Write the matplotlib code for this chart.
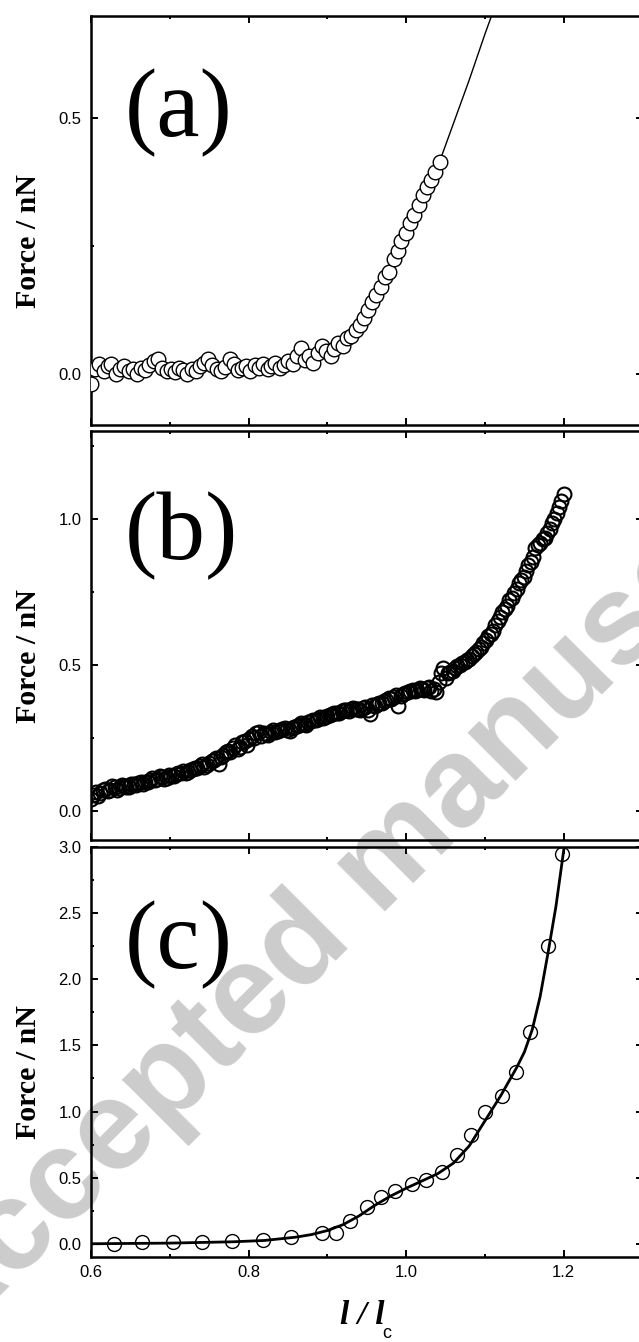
import matplotlib
matplotlib.use('Agg')
import matplotlib.pyplot as plt
from matplotlib.ticker import MultipleLocator

# panel (a): force vs l/lc, open circles + fitted line
a_x = [0.600, 0.605, 0.610, 0.616, 0.621, 0.626, 0.632, 0.637, 0.642, 0.648,
       0.653, 0.658, 0.664, 0.669, 0.674, 0.680, 0.685, 0.690, 0.696, 0.701,
       0.706, 0.712, 0.717, 0.722, 0.728, 0.733, 0.738, 0.744, 0.749, 0.754,
       0.760, 0.765, 0.770, 0.776, 0.781, 0.786, 0.792, 0.797, 0.802, 0.808,
       0.813, 0.818, 0.824, 0.829, 0.834, 0.840, 0.845, 0.850, 0.856, 0.861,
       0.866, 0.872, 0.877, 0.882, 0.888, 0.893, 0.898, 0.904, 0.909, 0.914,
       0.920, 0.925, 0.930, 0.936, 0.941, 0.946, 0.952, 0.957, 0.962, 0.968,
       0.973, 0.978, 0.984, 0.989, 0.994, 1.000, 1.005, 1.010, 1.016, 1.021,
       1.026, 1.032, 1.037, 1.043]
a_y = [-0.020, 0.010, 0.020, 0.005, 0.015, 0.020, 0.000, 0.010, 0.015, 0.005,
       0.010, 0.000, 0.012, 0.008, 0.018, 0.025, 0.030, 0.012, 0.005, 0.010,
       0.004, 0.012, 0.008, 0.000, 0.010, 0.006, 0.015, 0.022, 0.030, 0.018,
       0.010, 0.005, 0.014, 0.030, 0.020, 0.008, 0.012, 0.016, 0.006, 0.018,
       0.012, 0.020, 0.010, 0.015, 0.022, 0.012, 0.018, 0.025, 0.020, 0.035,
       0.050, 0.028, 0.035, 0.022, 0.040, 0.055, 0.045, 0.035, 0.048, 0.060,
       0.055, 0.070, 0.075, 0.085, 0.095, 0.110, 0.125, 0.140, 0.155, 0.170,
       0.190, 0.200, 0.225, 0.240, 0.260, 0.275, 0.295, 0.310, 0.330, 0.350,
       0.365, 0.380, 0.395, 0.415]
fit_a_x = [0.60, 0.70, 0.80, 0.86, 0.90, 0.92, 0.94, 0.96, 0.98, 1.00,
           1.02, 1.04, 1.06, 1.08, 1.10, 1.12]
fit_a_y = [0.005, 0.008, 0.015, 0.025, 0.040, 0.055, 0.090, 0.145, 0.205, 0.270,
           0.340, 0.405, 0.490, 0.575, 0.665, 0.750]

# panel (b): two interleaved runs of the same measurement
b_x = [0.600, 0.606, 0.612, 0.618, 0.624, 0.630, 0.636, 0.642, 0.648, 0.654,
       0.660, 0.666, 0.672, 0.678, 0.684, 0.690, 0.696, 0.702, 0.708, 0.714,
       0.720, 0.726, 0.732, 0.738, 0.744, 0.750, 0.756, 0.762, 0.768, 0.774,
       0.780, 0.786, 0.792, 0.798, 0.804, 0.810, 0.816, 0.822, 0.828, 0.834,
       0.840, 0.846, 0.852, 0.858, 0.864, 0.870, 0.876, 0.882, 0.888, 0.894,
       0.900, 0.906, 0.912, 0.918, 0.924, 0.930, 0.936, 0.942, 0.948, 0.954,
       0.960, 0.966, 0.972, 0.978, 0.984, 0.990, 0.996, 1.002, 1.008, 1.014,
       1.020, 1.026, 1.032, 1.038, 1.044, 1.050, 1.056, 1.062, 1.068, 1.074,
       1.080, 1.086, 1.092, 1.098, 1.104, 1.110, 1.116, 1.122, 1.128, 1.134,
       1.140, 1.146, 1.152, 1.158, 1.164, 1.170, 1.176, 1.182, 1.188, 1.194,
       1.200]
b_y = [0.040, 0.065, 0.060, 0.075, 0.070, 0.080, 0.078, 0.085, 0.082, 0.090,
       0.095, 0.092, 0.100, 0.112, 0.108, 0.115, 0.112, 0.120, 0.125, 0.130,
       0.128, 0.140, 0.148, 0.155, 0.150, 0.165, 0.175, 0.160, 0.190, 0.205,
       0.215, 0.210, 0.235, 0.225, 0.255, 0.265, 0.255, 0.262, 0.270, 0.268,
       0.275, 0.282, 0.272, 0.288, 0.295, 0.298, 0.305, 0.310, 0.315, 0.318,
       0.325, 0.330, 0.336, 0.340, 0.345, 0.348, 0.350, 0.345, 0.355, 0.330,
       0.360, 0.368, 0.375, 0.385, 0.390, 0.360, 0.400, 0.405, 0.412, 0.415,
       0.418, 0.420, 0.410, 0.405, 0.470, 0.455, 0.475, 0.490, 0.500, 0.510,
       0.520, 0.535, 0.555, 0.575, 0.600, 0.615, 0.650, 0.680, 0.700, 0.730,
       0.760, 0.790, 0.820, 0.850, 0.900, 0.915, 0.935, 0.965, 1.000, 1.040,
       1.085]
b2_x = [0.603, 0.609, 0.615, 0.621, 0.627, 0.633, 0.639, 0.645, 0.651, 0.657,
        0.663, 0.669, 0.675, 0.681, 0.687, 0.693, 0.699, 0.705, 0.711, 0.717,
        0.723, 0.729, 0.735, 0.741, 0.747, 0.753, 0.759, 0.765, 0.771, 0.777,
        0.783, 0.789, 0.795, 0.801, 0.807, 0.813, 0.819, 0.825, 0.831, 0.837,
        0.843, 0.849, 0.855, 0.861, 0.867, 0.873, 0.879, 0.885, 0.891, 0.897,
        0.903, 0.909, 0.915, 0.921, 0.927, 0.933, 0.939, 0.945, 0.951, 0.957,
        0.963, 0.969, 0.975, 0.981, 0.987, 0.993, 0.999, 1.005, 1.011, 1.017,
        1.023, 1.029, 1.035, 1.041, 1.047, 1.053, 1.059, 1.065, 1.071, 1.077,
        1.083, 1.089, 1.095, 1.101, 1.107, 1.113, 1.119, 1.125, 1.131, 1.137,
        1.143, 1.149, 1.155, 1.161, 1.167, 1.173, 1.179, 1.185, 1.191, 1.197]
b2_y = [0.055, 0.050, 0.070, 0.068, 0.085, 0.072, 0.088, 0.080, 0.092, 0.088,
        0.100, 0.098, 0.105, 0.105, 0.118, 0.110, 0.122, 0.118, 0.130, 0.135,
        0.132, 0.142, 0.145, 0.160, 0.158, 0.170, 0.180, 0.185, 0.200, 0.200,
        0.225, 0.220, 0.240, 0.245, 0.250, 0.270, 0.265, 0.258, 0.275, 0.272,
        0.280, 0.278, 0.285, 0.290, 0.300, 0.295, 0.308, 0.312, 0.320, 0.322,
        0.328, 0.334, 0.335, 0.345, 0.342, 0.352, 0.348, 0.352, 0.345, 0.362,
        0.365, 0.370, 0.380, 0.382, 0.395, 0.392, 0.402, 0.410, 0.410, 0.420,
        0.415, 0.425, 0.418, 0.440, 0.490, 0.470, 0.480, 0.495, 0.505, 0.515,
        0.530, 0.545, 0.560, 0.585, 0.605, 0.635, 0.665, 0.690, 0.720, 0.745,
        0.780, 0.800, 0.840, 0.870, 0.910, 0.930, 0.950, 0.985, 1.020, 1.060]

# panel (c)
c_x = [0.629, 0.665, 0.704, 0.741, 0.779, 0.818, 0.854, 0.893, 0.911, 0.929,
       0.950, 0.968, 0.986, 1.007, 1.025, 1.046, 1.064, 1.082, 1.100, 1.121,
       1.139, 1.157, 1.180, 1.198]
c_y = [0.00, 0.01, 0.01, 0.01, 0.02, 0.025, 0.05, 0.08, 0.08, 0.17,
       0.28, 0.35, 0.40, 0.45, 0.48, 0.54, 0.67, 0.82, 1.00, 1.12,
       1.30, 1.60, 2.25, 2.95]
fit_c_x = [0.60, 0.70, 0.78, 0.82, 0.86, 0.88, 0.90, 0.92, 0.94, 0.96,
           0.98, 1.00, 1.02, 1.04, 1.06, 1.08, 1.10, 1.12, 1.14, 1.15,
           1.16, 1.17, 1.18, 1.19, 1.20]
fit_c_y = [0.000, 0.005, 0.015, 0.025, 0.050, 0.070, 0.100, 0.145, 0.210, 0.290,
           0.360, 0.420, 0.475, 0.530, 0.610, 0.740, 0.930, 1.120, 1.330, 1.450,
           1.620, 1.870, 2.200, 2.550, 2.980]

panel_labels = ['(a)', '(b)', '(c)']
ylims = [(-0.1, 0.7), (-0.1, 1.3), (-0.1, 3.0)]

W, H = 639, 1342
fig = plt.figure(figsize=(W / 100, H / 100), dpi=100)

left = 91 / W
width = 551.6 / W
boxes = [(16, 425), (431, 840), (847, 1257)]  # top, bottom in pixels
label_y = [0.763, 0.743, 0.761]

sans = ['Liberation Sans', 'DejaVu Sans']
serif = ['Liberation Serif', 'DejaVu Serif']

axes = []
for i, (top, bot) in enumerate(boxes):
    ax = fig.add_axes([left, 1 - bot / H, width, (bot - top) / H])
    ax.set_facecolor('none')
    ax.set_xlim(0.6, 1.3)
    ax.set_ylim(*ylims[i])
    ax.xaxis.set_major_locator(MultipleLocator(0.2))
    ax.xaxis.set_minor_locator(MultipleLocator(0.1))
    ax.yaxis.set_major_locator(MultipleLocator(0.5))
    ax.yaxis.set_minor_locator(MultipleLocator(0.25))
    ax.tick_params(which='both', direction='in', top=True, right=True,
                   width=1.4, labelsize=12, colors='black')
    ax.tick_params(which='major', length=5, pad=7)
    ax.tick_params(which='minor', length=2.5)
    for s in ax.spines.values():
        s.set_linewidth(1.8)
    if i < 2:
        ax.tick_params(axis='x', labelbottom=False)
    for lab in ax.get_xticklabels() + ax.get_yticklabels():
        lab.set_family(sans)
    ax.set_ylabel('Force / nN', family=serif, fontweight='bold', fontsize=21.5)
    ax.yaxis.set_label_coords(-0.088, 0.45)
    ax.text(0.062, label_y[i], panel_labels[i], transform=ax.transAxes,
            family=serif, fontsize=70, ha='left', va='center')
    axes.append(ax)

ax_a, ax_b, ax_c = axes

ax_a.plot(fit_a_x, fit_a_y, color='black', lw=1.0, zorder=2)
ax_a.plot(a_x, a_y, 'o', ms=10.5, mfc='white', mec='black', mew=1.0, zorder=3)

ax_b.plot(b_x, b_y, 'o', ms=10, mfc='none', mec='black', mew=1.5, zorder=3)
ax_b.plot(b2_x, b2_y, 'o', ms=10, mfc='none', mec='black', mew=1.5, zorder=3)

ax_c.plot(fit_c_x, fit_c_y, color='black', lw=2.0, zorder=2)
ax_c.plot(c_x, c_y, 'o', ms=10, mfc='none', mec='black', mew=1.0, zorder=3)
ax_c.tick_params(axis='x', pad=6)

# x label: l / l_c
fig.text(362 / W, 1 - 1316 / H, 'l / l', family=serif, fontsize=24,
         fontweight='bold', fontstyle='italic', ha='center', va='center')
fig.text(387 / W, 1 - 1334 / H, 'c', family=sans, fontsize=13,
         ha='center', va='center')

# watermark
fig.text(384 / W, 1 - 866 / H, 'Accepted manuscript', family=sans,
         fontsize=92, fontweight='bold', color='#cccccc', rotation=45,
         rotation_mode='anchor', ha='center', va='center', zorder=-1)

fig.savefig('out.png', dpi=100)
